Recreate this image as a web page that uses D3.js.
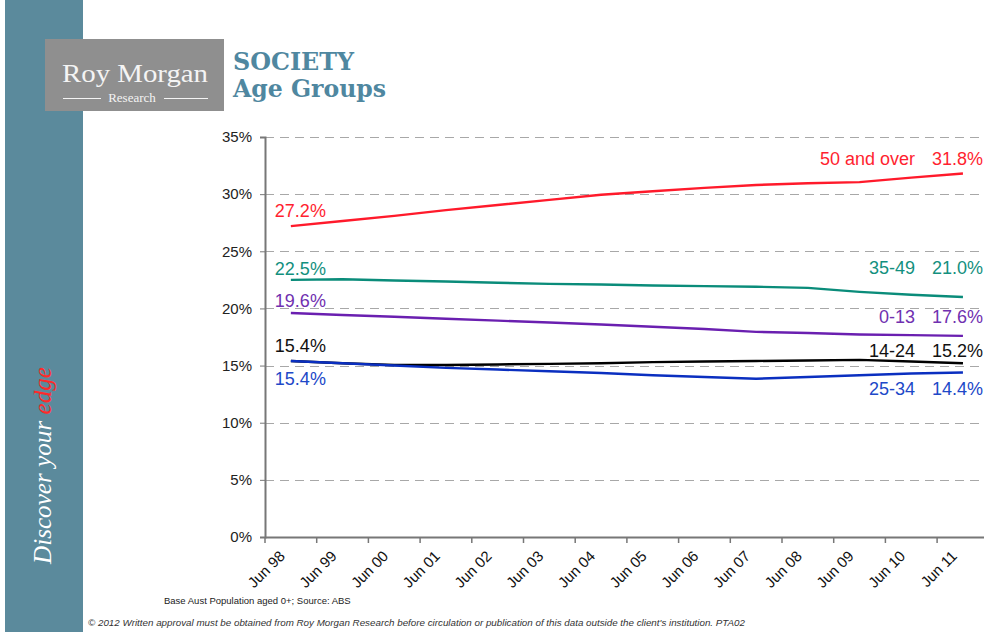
<!DOCTYPE html>
<html><head><meta charset="utf-8">
<script src="https://cdn.jsdelivr.net/npm/d3@7"></script>
<style>body{margin:0;background:#fff;} svg{display:block;}</style>
</head><body>
<svg id="chart" width="984" height="632"></svg>
<script>
const categories = ["Jun 98","Jun 99","Jun 00","Jun 01","Jun 02","Jun 03","Jun 04","Jun 05","Jun 06","Jun 07","Jun 08","Jun 09","Jun 10","Jun 11"];
const age50plus = [27.2,27.65,28.1,28.6,29.05,29.5,29.95,30.25,30.55,30.8,30.95,31.05,31.45,31.8];
const age35_49  = [22.5,22.55,22.45,22.35,22.25,22.15,22.1,22.0,21.95,21.9,21.8,21.45,21.2,21.0];
const age0_13   = [19.6,19.43,19.27,19.1,18.93,18.77,18.6,18.4,18.2,17.95,17.85,17.72,17.66,17.6];
const age14_24  = [15.4,15.2,15.05,15.05,15.1,15.15,15.2,15.3,15.35,15.4,15.45,15.5,15.35,15.2];
const age25_34  = [15.4,15.2,15.0,14.8,14.65,14.5,14.35,14.15,14.0,13.85,14.0,14.15,14.3,14.4];
const yTicks = [0,5,10,15,20,25,30,35];
const seriesNames = ["50 and over","35-49","0-13","14-24","25-34"];

const series = [
  {name: seriesNames[0], values: age50plus, color:"#ff1a2b", text:"#ff1f30", startDy:-9, endDy:-9},
  {name: seriesNames[1], values: age35_49,  color:"#0a8c7a", text:"#13907e", startDy:-5, endDy:-23},
  {name: seriesNames[2], values: age0_13,   color:"#6a1fb0", text:"#7030b0", startDy:-6, endDy:-13},
  {name: seriesNames[3], values: age14_24,  color:"#000000", text:"#111111", startDy:-9, endDy:-6},
  {name: seriesNames[4], values: age25_34,  color:"#0a2fc0", text:"#2048c8", startDy:24, endDy:23}
];

const svg = d3.select("#chart");

// left band
svg.append("rect").attr("x",5).attr("y",0).attr("width",78).attr("height",632).attr("fill","#5b8a9c");
// logo box
svg.append("rect").attr("x",45).attr("y",39).attr("width",179).attr("height",72).attr("fill","#8f8f8f");
svg.append("text").attr("x",62).attr("y",82).attr("font-family","Liberation Serif, serif").attr("font-size",25)
  .attr("fill","#f4f4f4").attr("textLength",146).attr("lengthAdjust","spacingAndGlyphs").text("Roy Morgan");
svg.append("text").attr("x",132).attr("y",102).attr("text-anchor","middle").attr("font-family","Liberation Serif, serif")
  .attr("font-size",13).attr("fill","#f4f4f4").text("Research");
svg.append("line").attr("x1",63).attr("x2",101).attr("y1",98.5).attr("y2",98.5).attr("stroke","#f4f4f4").attr("stroke-width",1);
svg.append("line").attr("x1",164).attr("x2",208).attr("y1",98.5).attr("y2",98.5).attr("stroke","#f4f4f4").attr("stroke-width",1);
// title
svg.append("text").attr("x",233).attr("y",70).attr("font-family","DejaVu Serif, serif").attr("font-weight","bold")
  .attr("font-size",24).attr("fill","#4f87a0").attr("textLength",121).attr("lengthAdjust","spacingAndGlyphs").text("SOCIETY");
svg.append("text").attr("x",233).attr("y",97).attr("font-family","DejaVu Serif, serif").attr("font-weight","bold")
  .attr("font-size",24).attr("fill","#4f87a0").attr("textLength",153).attr("lengthAdjust","spacingAndGlyphs").text("Age Groups");
// vertical slogan
const slogan = svg.append("text").attr("transform","translate(51,564) rotate(-90)")
  .attr("font-family","Liberation Serif, serif").attr("font-style","italic").attr("font-size",26).attr("fill","#ffffff")
  .attr("textLength",197).attr("lengthAdjust","spacingAndGlyphs");
slogan.append("tspan").text("Discover your ");
slogan.append("tspan").attr("fill","#ff2a2a").text("edge");

// chart
const x0 = 265, step = 51.7;
const x = d3.scaleBand().domain(categories).range([x0, x0 + step*categories.length]).paddingInner(0).paddingOuter(0);
const y = d3.scaleLinear().domain([0,35]).range([537, 137]);
const cx = d => x(d) + x.bandwidth()/2;

// gridlines
svg.append("g").selectAll("line").data(yTicks.filter(t=>t>0)).join("line")
  .attr("x1",x0).attr("x2",981).attr("y1",d=>Math.round(y(d))+0.5).attr("y2",d=>Math.round(y(d))+0.5)
  .attr("stroke","#a8a8a8").attr("stroke-width",1).attr("stroke-dasharray","9,6");

// y axis
const yAxis = d3.axisLeft(y).tickValues(yTicks).tickFormat(d=>d+"%").tickSize(5).tickPadding(8);
const gy = svg.append("g").attr("transform",`translate(${x0},0)`).call(yAxis);
gy.select(".domain").attr("stroke","#777").attr("stroke-width",2);
gy.selectAll(".tick line").attr("stroke","#777");
gy.selectAll(".tick text").attr("font-family","Liberation Sans, Arial, sans-serif").attr("font-size",15).attr("fill","#222");

// x axis
const xAxis = d3.axisBottom(x).tickSize(0).tickFormat("");
const gx = svg.append("g").attr("transform","translate(0,537)").call(xAxis);
gx.select(".domain").attr("stroke","#777").attr("stroke-width",2);
svg.append("g").selectAll("line").data(categories).join("line")
  .attr("x1",d=>x(d)).attr("x2",d=>x(d)).attr("y1",537).attr("y2",543).attr("stroke","#777").attr("stroke-width",1.5);
svg.append("g").selectAll("text").data(categories).join("text")
  .attr("transform",d=>`translate(${cx(d)-5},557) rotate(-45)`).attr("text-anchor","end")
  .attr("font-family","Liberation Sans, Arial, sans-serif").attr("font-size",15).attr("fill","#111").text(d=>d);

// lines
const line = d3.line().x((d,i)=>cx(categories[i])).y(d=>y(d));
svg.append("g").selectAll("path").data(series).join("path")
  .attr("d",d=>line(d.values)).attr("fill","none").attr("stroke",d=>d.color).attr("stroke-width",2.4).attr("stroke-linejoin","round");

// labels
const lf = "Liberation Sans, Arial, sans-serif";
series.forEach(s => {
  const v0 = s.values[0], vn = s.values[s.values.length-1];
  svg.append("text").attr("x",cx(categories[0])-16).attr("y",y(v0)+s.startDy).attr("font-family",lf).attr("font-size",18)
    .attr("fill",s.text).text(v0.toFixed(1)+"%");
  svg.append("text").attr("x",983).attr("y",y(vn)+s.endDy).attr("text-anchor","end").attr("font-family",lf).attr("font-size",18)
    .attr("fill",s.text).text(vn.toFixed(1)+"%");
  svg.append("text").attr("x",915).attr("y",y(vn)+s.endDy).attr("text-anchor","end").attr("font-family",lf).attr("font-size",18)
    .attr("fill",s.text).text(s.name);
});

// footnotes
svg.append("text").attr("x",164).attr("y",604).attr("font-family",lf).attr("font-size",9.5).attr("fill","#222")
  .text("Base Aust Population aged 0+; Source: ABS");
svg.append("text").attr("x",88).attr("y",626).attr("font-family",lf).attr("font-size",9.5).attr("font-style","italic").attr("fill","#333")
  .attr("textLength",657).attr("lengthAdjust","spacingAndGlyphs")
  .text("© 2012 Written approval must be obtained from Roy Morgan Research before circulation or publication of this data outside the client's institution.  PTA02");
</script>
</body></html>
